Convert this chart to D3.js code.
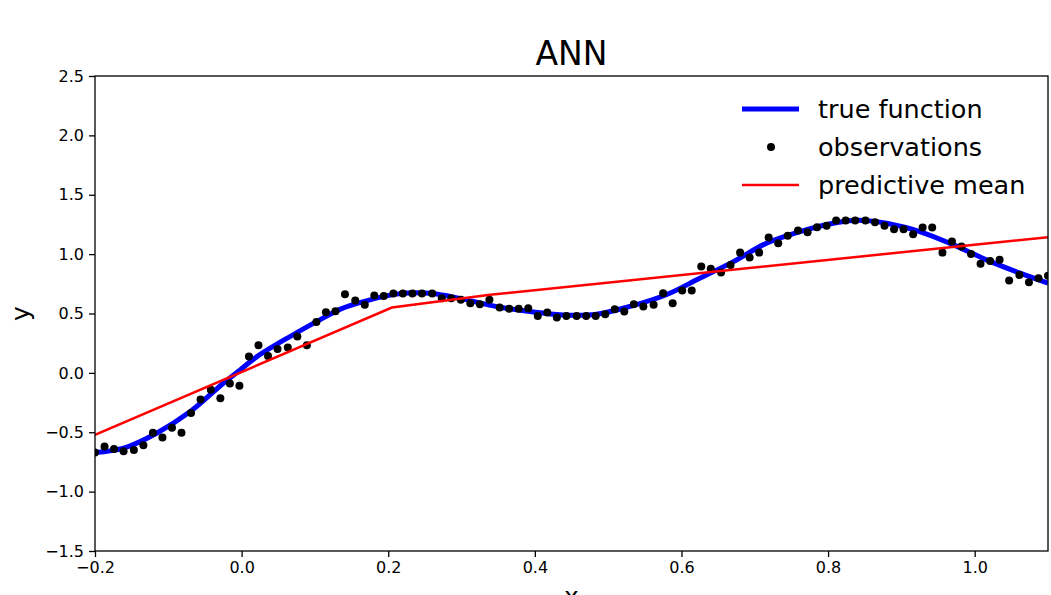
<!DOCTYPE html>
<html lang="en">
<head>
<meta charset="UTF-8">
<title>ANN</title>
<script src="https://d3js.org/d3.v7.min.js"></script>
<style>
  body { margin: 0; background: #fff; }
  svg { display: block; font-family: "DejaVu Sans", sans-serif; }
</style>
</head>
<body>
<div id="my_dataviz"></div>
<script>
// observations (x, y)
var obsX = [-0.200,-0.187,-0.174,-0.161,-0.147,-0.134,-0.121,-0.108,-0.095,-0.082,
            -0.069,-0.056,-0.042,-0.029,-0.016,-0.003, 0.010, 0.023, 0.036, 0.049,
             0.063, 0.076, 0.089, 0.102, 0.115, 0.128, 0.141, 0.155, 0.168, 0.181,
             0.194, 0.207, 0.220, 0.233, 0.246, 0.260, 0.273, 0.286, 0.299, 0.312,
             0.325, 0.338, 0.352, 0.365, 0.378, 0.391, 0.404, 0.417, 0.430, 0.443,
             0.457, 0.470, 0.483, 0.496, 0.509, 0.522, 0.535, 0.548, 0.562, 0.575,
             0.588, 0.601, 0.614, 0.627, 0.640, 0.654, 0.667, 0.680, 0.693, 0.706,
             0.719, 0.732, 0.745, 0.759, 0.772, 0.785, 0.798, 0.811, 0.824, 0.837,
             0.851, 0.864, 0.877, 0.890, 0.903, 0.916, 0.929, 0.942, 0.956, 0.969,
             0.982, 0.995, 1.008, 1.021, 1.034, 1.047, 1.061, 1.074, 1.087, 1.100];
var obsY = [-0.671,-0.620,-0.640,-0.660,-0.650,-0.610,-0.505,-0.545,-0.463,-0.505,
            -0.337,-0.225,-0.143,-0.213,-0.090,-0.109, 0.137, 0.233, 0.143, 0.202,
             0.213, 0.306, 0.233, 0.429, 0.511, 0.520, 0.663, 0.609, 0.573, 0.651,
             0.648, 0.668, 0.668, 0.668, 0.668, 0.668, 0.629, 0.629, 0.615, 0.587,
             0.578, 0.615, 0.550, 0.539, 0.539, 0.545, 0.480, 0.508, 0.466, 0.480,
             0.480, 0.480, 0.480, 0.494, 0.536, 0.516, 0.578, 0.558, 0.573, 0.671,
             0.587, 0.693, 0.693, 0.895, 0.876, 0.845, 0.909, 1.013, 0.971, 1.013,
             1.139, 1.092, 1.154, 1.198, 1.185, 1.227, 1.240, 1.283, 1.283, 1.283,
             1.283, 1.269, 1.240, 1.210, 1.210, 1.168, 1.224, 1.224, 1.013, 1.106,
             1.064, 1.002, 0.918, 0.943, 0.952, 0.777, 0.825, 0.764, 0.797, 0.817];

// true function, sampled from the blue curve
var trueX = [-0.200,-0.161,-0.116,-0.070,-0.025,-0.002, 0.021, 0.066, 0.111, 0.134,
              0.166, 0.211, 0.257, 0.302, 0.348, 0.393, 0.438, 0.484, 0.530, 0.580,
              0.625, 0.671, 0.716, 0.762, 0.807, 0.834, 0.857, 0.880, 0.925, 0.971,
              1.016, 1.062, 1.100];
var trueY = [-0.671,-0.634,-0.508,-0.326,-0.087, 0.025, 0.137, 0.306, 0.461, 0.535,
              0.600, 0.663, 0.671, 0.621, 0.558, 0.516, 0.488, 0.494, 0.560, 0.660,
              0.797, 0.937, 1.092, 1.190, 1.260, 1.283, 1.280, 1.260, 1.190, 1.078,
              0.952, 0.840, 0.756];

// predictive mean (piecewise linear)
var predX = [-0.200, 0.205, 0.339, 1.100];
var predY = [-0.522, 0.550, 0.657, 1.143];

var xTicks = [-0.2, 0.0, 0.2, 0.4, 0.6, 0.8, 1.0];
var yTicks = [-1.5, -1.0, -0.5, 0.0, 0.5, 1.0, 1.5, 2.0, 2.5];
var legendLabels = ["true function", "observations", "predictive mean"];

var margin = {top: 76, right: 3, bottom: 44, left: 95},
    width = 1051 - margin.left - margin.right,
    height = 595 - margin.top - margin.bottom;

var svg = d3.select("#my_dataviz")
  .append("svg")
    .attr("width", 1051)
    .attr("height", 595)
  .append("g")
    .attr("transform", "translate(" + margin.left + "," + margin.top + ")");

var xScale = d3.scaleLinear().domain([-0.2, 1.1]).range([0, width]);
var yScale = d3.scaleLinear().domain([-1.5, 2.5]).range([height, 0]);

var fmt = function(d) { return d3.format(".1f")(d).replace("-", "\u2212"); };

var clip = svg.append("defs").append("clipPath")
    .attr("id", "clip")
  .append("rect")
    .attr("width", width)
    .attr("height", height);

var plot = svg.append("g").attr("clip-path", "url(#clip)");

var trueData = trueX.map(function(x, i) { return [x, trueY[i]]; });
var obsData = obsX.map(function(x, i) { return [x, obsY[i]]; });
var predData = predX.map(function(x, i) { return [x, predY[i]]; });

var lineGen = d3.line()
    .x(d => xScale(d[0]))
    .y(d => yScale(d[1]));

plot.append("path")
    .datum(trueData)
    .attr("fill", "none")
    .attr("stroke", "#0000ff")
    .attr("stroke-width", 5)
    .attr("d", lineGen.curve(d3.curveCatmullRom.alpha(0.5)));

plot.selectAll(".dot")
    .data(obsData)
  .enter().append("circle")
    .attr("class", "dot")
    .attr("cx", d => xScale(d[0]))
    .attr("cy", d => yScale(d[1]))
    .attr("r", 4)
    .attr("fill", "#000");

plot.append("path")
    .datum(predData)
    .attr("fill", "none")
    .attr("stroke", "#ff0000")
    .attr("stroke-width", 2.5)
    .attr("d", lineGen.curve(d3.curveLinear));

// axes
var xAxis = svg.append("g")
    .attr("transform", "translate(0," + height + ")")
    .call(d3.axisBottom(xScale).tickValues(xTicks).tickFormat(fmt).tickSize(6).tickPadding(5));
var yAxis = svg.append("g")
    .call(d3.axisLeft(yScale).tickValues(yTicks).tickFormat(fmt).tickSize(6).tickPadding(5));

[xAxis, yAxis].forEach(function(ax) {
  ax.select(".domain").remove();
  ax.selectAll("line").attr("stroke", "#000").attr("stroke-width", 1.3);
  ax.selectAll("text").attr("font-family", "DejaVu Sans").attr("font-size", "16px").attr("fill", "#000");
});

// frame
svg.append("rect")
    .attr("width", width)
    .attr("height", height)
    .attr("fill", "none")
    .attr("stroke", "#000")
    .attr("stroke-width", 1.3);

// title and labels
svg.append("text")
    .attr("x", width / 2)
    .attr("y", -11)
    .attr("text-anchor", "middle")
    .attr("font-size", "33px")
    .text("ANN");

// x label sits partly below the picture's edge, as in the reference
svg.append("text")
    .attr("x", width / 2)
    .attr("y", height + 54)
    .attr("text-anchor", "middle")
    .attr("font-size", "25px")
    .text("x");

svg.append("text")
    .attr("transform", "rotate(-90)")
    .attr("x", -height / 2)
    .attr("y", -66)
    .attr("text-anchor", "middle")
    .attr("font-size", "25px")
    .text("y");

// legend
var legend = svg.append("g").attr("transform", "translate(647,33)");
var rowH = 38;
legendLabels.forEach(function(lab, i) {
  var g = legend.append("g").attr("transform", "translate(0," + (i * rowH) + ")");
  if (i === 0) {
    g.append("line").attr("x1", 0).attr("x2", 57).attr("stroke", "#0000ff").attr("stroke-width", 5);
  } else if (i === 1) {
    g.append("circle").attr("cx", 29).attr("cy", 0).attr("r", 4).attr("fill", "#000");
  } else {
    g.append("line").attr("x1", 0).attr("x2", 57).attr("stroke", "#ff0000").attr("stroke-width", 2.5);
  }
  g.append("text")
      .attr("x", 76)
      .attr("y", 9)
      .attr("font-size", "25.5px")
      .text(lab);
});
</script>
</body>
</html>
